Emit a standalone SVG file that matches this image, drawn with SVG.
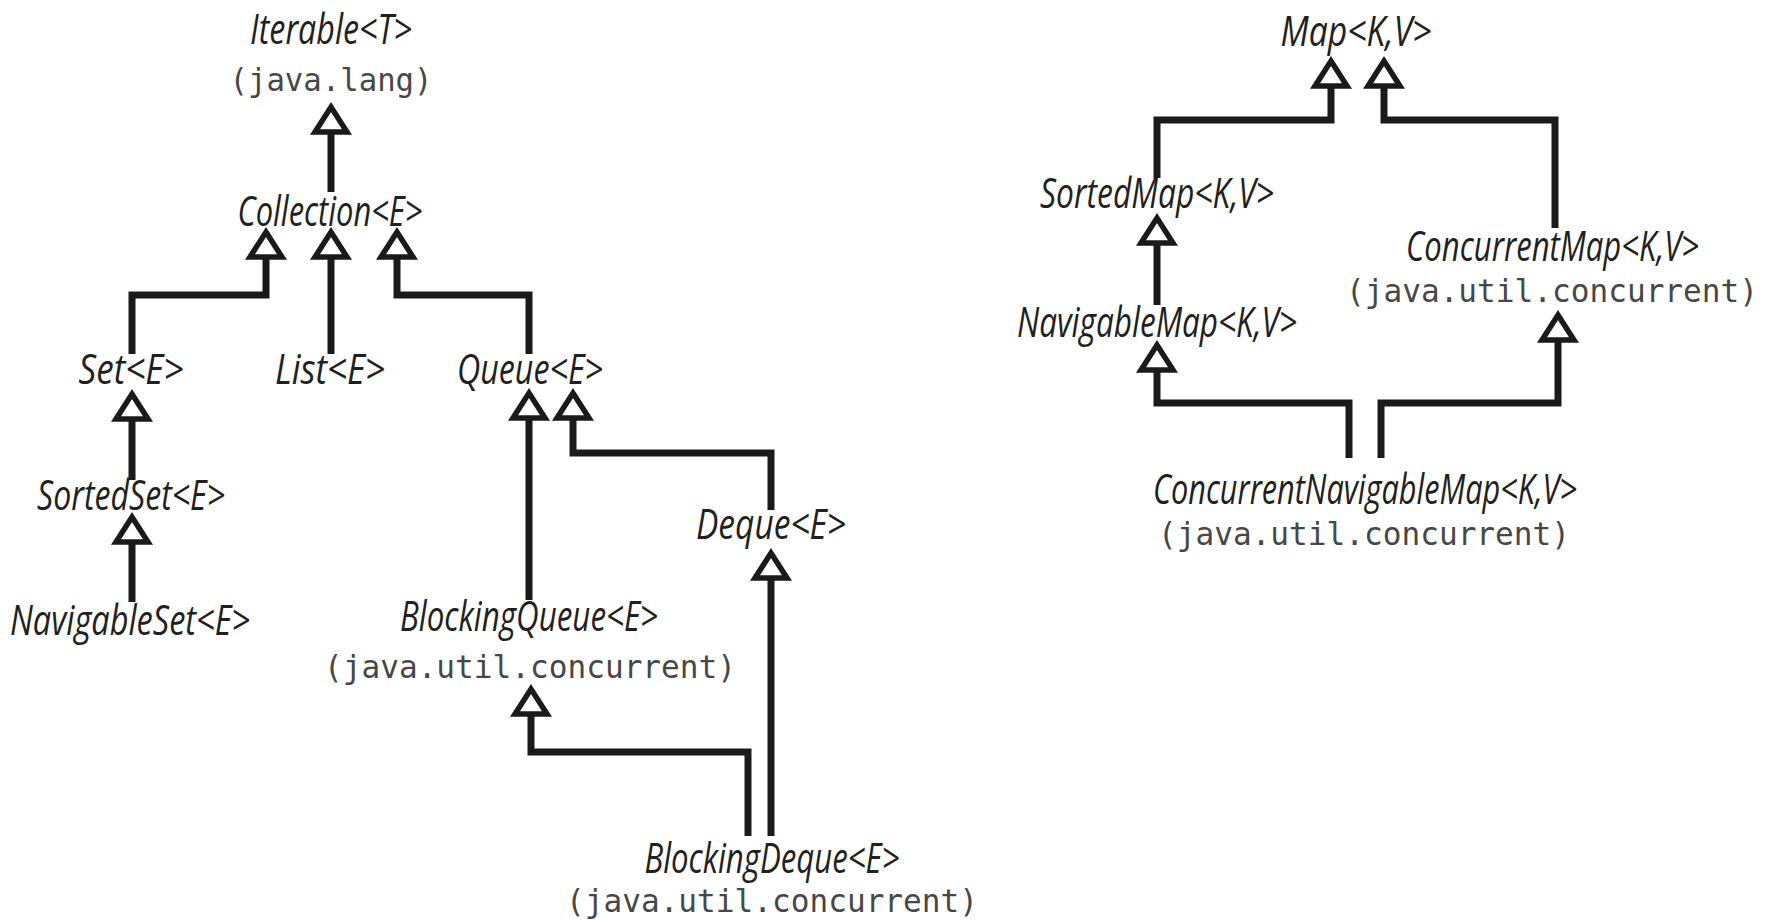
<svg xmlns="http://www.w3.org/2000/svg" width="1769" height="920" viewBox="0 0 1769 920">
  <style>
    .name { font-family: "Open Sans", "Noto Sans", "Liberation Sans", sans-serif; font-style: italic; font-size: 42px; fill: #231f20; text-anchor: middle; }
    .pkg { font-family: "DejaVu Sans Mono", "Liberation Mono", monospace; font-size: 32px; fill: #474747; text-anchor: middle; }
    .edge { fill: none; stroke: #1a1a1a; stroke-width: 7; stroke-linejoin: miter; stroke-linecap: butt; marker-end: url(#extends); }
  </style>
  <defs>
    <!-- hollow triangle: "extends" arrowhead, pointing along the path -->
    <marker id="extends" markerUnits="userSpaceOnUse" markerWidth="48" markerHeight="48" viewBox="-8 -24 48 48" refX="0" refY="0" orient="auto" overflow="visible">
      <path d="M0,-16 L25,0 L0,16 Z" fill="#ffffff" stroke="#1a1a1a" stroke-width="5.5" stroke-linejoin="miter"/>
    </marker>
  </defs>
  <rect width="1769" height="920" fill="#ffffff"/>

  <!-- connectors: each runs from the sub-interface up to its super-interface -->
  <g id="connectors">
    <path class="edge" d="M331,192 V132"/>
    <path class="edge" d="M132,354 V295 H266 V257"/>
    <path class="edge" d="M331,354 V257"/>
    <path class="edge" d="M529,354 V295 H397 V257"/>
    <path class="edge" d="M132,480 V419"/>
    <path class="edge" d="M132,602 V542"/>
    <path class="edge" d="M529,600 V418"/>
    <path class="edge" d="M771,510 V453 H573 V418"/>
    <path class="edge" d="M771,836 V578"/>
    <path class="edge" d="M748,836 V752 H531 V714"/>
    <path class="edge" d="M1157,178 V120 H1331 V86"/>
    <path class="edge" d="M1555,228 V120 H1384 V86"/>
    <path class="edge" d="M1157,305 V243"/>
    <path class="edge" d="M1349,458 V403 H1157 V370"/>
    <path class="edge" d="M1381,458 V403 H1558 V340"/>
  </g>

  <!-- collection hierarchy -->
  <g id="iterable">
    <text class="name" x="331" y="44" textLength="162" lengthAdjust="spacingAndGlyphs">Iterable&lt;T&gt;</text>
    <text class="pkg" x="331" y="91" textLength="203" lengthAdjust="spacingAndGlyphs">(java.lang)</text>
  </g>
  <g id="collection">
    <text class="name" x="330" y="226" textLength="185" lengthAdjust="spacingAndGlyphs">Collection&lt;E&gt;</text>
  </g>
  <g id="set">
    <text class="name" x="131" y="384" textLength="105" lengthAdjust="spacingAndGlyphs">Set&lt;E&gt;</text>
  </g>
  <g id="list">
    <text class="name" x="330" y="384" textLength="110" lengthAdjust="spacingAndGlyphs">List&lt;E&gt;</text>
  </g>
  <g id="queue">
    <text class="name" x="530" y="384" textLength="146" lengthAdjust="spacingAndGlyphs">Queue&lt;E&gt;</text>
  </g>
  <g id="sortedset">
    <text class="name" x="131" y="510" textLength="188" lengthAdjust="spacingAndGlyphs">SortedSet&lt;E&gt;</text>
  </g>
  <g id="navigableset">
    <text class="name" x="130" y="635" textLength="240" lengthAdjust="spacingAndGlyphs">NavigableSet&lt;E&gt;</text>
  </g>
  <g id="deque">
    <text class="name" x="771" y="539" textLength="150" lengthAdjust="spacingAndGlyphs">Deque&lt;E&gt;</text>
  </g>
  <g id="blockingqueue">
    <text class="name" x="529" y="631" textLength="258" lengthAdjust="spacingAndGlyphs">BlockingQueue&lt;E&gt;</text>
    <text class="pkg" x="530" y="678" textLength="412" lengthAdjust="spacingAndGlyphs">(java.util.concurrent)</text>
  </g>
  <g id="blockingdeque">
    <text class="name" x="772" y="873" textLength="255" lengthAdjust="spacingAndGlyphs">BlockingDeque&lt;E&gt;</text>
    <text class="pkg" x="772" y="912" textLength="412" lengthAdjust="spacingAndGlyphs">(java.util.concurrent)</text>
  </g>

  <!-- map hierarchy -->
  <g id="map">
    <text class="name" x="1356" y="46" textLength="151" lengthAdjust="spacingAndGlyphs">Map&lt;K,V&gt;</text>
  </g>
  <g id="sortedmap">
    <text class="name" x="1157" y="208" textLength="234" lengthAdjust="spacingAndGlyphs">SortedMap&lt;K,V&gt;</text>
  </g>
  <g id="navigablemap">
    <text class="name" x="1157" y="337" textLength="280" lengthAdjust="spacingAndGlyphs">NavigableMap&lt;K,V&gt;</text>
  </g>
  <g id="concurrentmap">
    <text class="name" x="1699" y="261" style="text-anchor:end" textLength="293" lengthAdjust="spacingAndGlyphs">ConcurrentMap&lt;K,V&gt;</text>
    <text class="pkg" x="1552" y="302" textLength="412" lengthAdjust="spacingAndGlyphs">(java.util.concurrent)</text>
  </g>
  <g id="concurrentnavigablemap">
    <text class="name" x="1365" y="504" textLength="424" lengthAdjust="spacingAndGlyphs">ConcurrentNavigableMap&lt;K,V&gt;</text>
    <text class="pkg" x="1364" y="545" textLength="412" lengthAdjust="spacingAndGlyphs">(java.util.concurrent)</text>
  </g>
</svg>
